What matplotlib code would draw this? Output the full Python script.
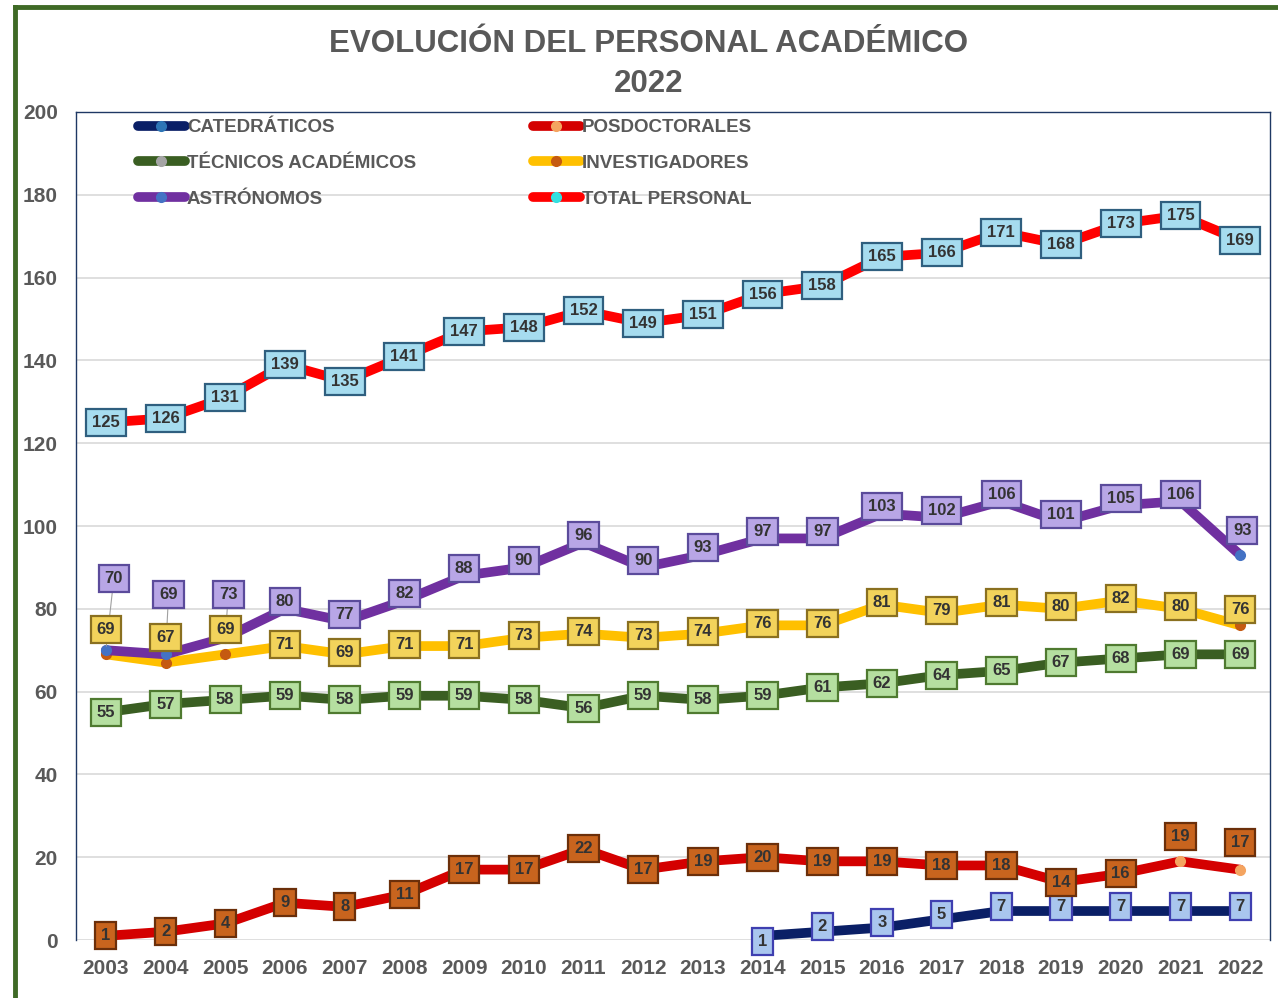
import matplotlib.pyplot as plt
from matplotlib.lines import Line2D

# data
years = list(range(2003, 2023))
total = [125, 126, 131, 139, 135, 141, 147, 148, 152, 149, 151, 156, 158, 165, 166, 171, 168, 173, 175, 169]
astronomos = [70, 69, 73, 80, 77, 82, 88, 90, 96, 90, 93, 97, 97, 103, 102, 106, 101, 105, 106, 93]
investigadores = [69, 67, 69, 71, 69, 71, 71, 73, 74, 73, 74, 76, 76, 81, 79, 81, 80, 82, 80, 76]
tecnicos = [55, 57, 58, 59, 58, 59, 59, 58, 56, 59, 58, 59, 61, 62, 64, 65, 67, 68, 69, 69]
posdoctorales = [1, 2, 4, 9, 8, 11, 17, 17, 22, 17, 19, 20, 19, 19, 18, 18, 14, 16, 19, 17]
catedraticos_years = list(range(2014, 2023))
catedraticos = [1, 2, 3, 5, 7, 7, 7, 7, 7]

TXT = '#595959'
FONT = 'Liberation Sans'

fig = plt.figure(figsize=(12.78, 9.98), dpi=100)
fig.patch.set_facecolor('white')

# green frame (top + left edges visible)
fig.add_artist(Line2D([15/1278, 15/1278], [0, 1 - 7/998], color='#3F6A26', lw=3.5,
                      transform=fig.transFigure))
fig.add_artist(Line2D([15/1278, 1], [1 - 7/998, 1 - 7/998], color='#3F6A26', lw=3.5,
                      transform=fig.transFigure))

ax = fig.add_axes([76/1278, 58/998, (1270 - 76)/1278, (940 - 112)/998])
ax.set_xlim(-0.5, len(years) - 0.5)
ax.set_ylim(0, 200)
ax.set_yticks(range(0, 201, 20))
ax.set_xticks(range(len(years)))
ax.set_xticklabels([str(y) for y in years])
ax.grid(axis='y', color='#D9D9D9', lw=1.2)
ax.set_axisbelow(True)
ax.tick_params(length=0, labelsize=15, labelcolor=TXT)
ax.tick_params(axis='x', pad=14)
ax.tick_params(axis='y', pad=13)
for lab in ax.get_xticklabels() + ax.get_yticklabels():
    lab.set_fontweight('bold')
    lab.set_fontfamily(FONT)
for s in ['left', 'top', 'right']:
    ax.spines[s].set_color('#1F3864')
    ax.spines[s].set_linewidth(1)
ax.spines['bottom'].set_visible(False)

x_all = list(range(len(years)))
x_cat = [years.index(y) for y in catedraticos_years]

series = [
    # name, x, values, line color, marker color, box face, box edge, default offset px, overrides
    ('CATEDRÁTICOS', x_cat, catedraticos, '#0A1F66', '#2E75B6', '#A9C6EE', '#3F3FB0', 5, {0: (0, -6)}),
    ('TÉCNICOS ACADÉMICOS', x_all, tecnicos, '#3A5E22', '#A5A5A5', '#B5DFA0', '#4F7A30', 0, {}),
    ('ASTRÓNOMOS', x_all, astronomos, '#7030A0', '#4472C4', '#B8A6E6', '#5B4B9B', 7,
     {0: (8, 72), 1: (3, 60), 2: (3, 43), 19: (2, 24)}),
    ('POSDOCTORALES', x_all, posdoctorales, '#D40000', '#F4A460', '#C8641E', '#6B2F0A', 0,
     {18: (0, 25), 19: (0, 27)}),
    ('INVESTIGADORES', x_all, investigadores, '#FFC000', '#C55A11', '#F2D35B', '#8A7020', 2,
     {0: (0, 25), 1: (0, 25), 2: (0, 25), 19: (0, 16)}),
    ('TOTAL PERSONAL', x_all, total, '#FF0000', '#33E0E0', '#A6DCEF', '#2F5F7F', 0, {}),
]

order = ['TOTAL PERSONAL', 'ASTRÓNOMOS', 'INVESTIGADORES', 'TÉCNICOS ACADÉMICOS',
         'POSDOCTORALES', 'CATEDRÁTICOS']
handles = {}
for name, xs, vals, lc, mc, fc, ec, dy, over in series:
    z = 3 + order[::-1].index(name) * 0.1
    ln, = ax.plot(xs, vals, color=lc, lw=7, solid_joinstyle='round', solid_capstyle='round',
                  marker='o', markersize=7, markerfacecolor=mc, markeredgecolor=mc, zorder=z)
    handles[name] = ln
    for i, (x, v) in enumerate(zip(xs, vals)):
        ox, oy = over.get(i, (0, dy))
        arrow = None
        if oy > 35:
            arrow = dict(arrowstyle='-', color='#A0A0A0', lw=0.8, shrinkA=0, shrinkB=3)
        ax.annotate(str(v), (x, v), xytext=(ox * 0.72, oy * 0.72), textcoords='offset points',
                    ha='center', va='center', fontsize=12, fontweight='bold',
                    family=FONT, color='#333333', zorder=10,
                    bbox=dict(boxstyle='square,pad=0.36', fc=fc, ec=ec, lw=1.6),
                    arrowprops=arrow)

# legend in two columns placed like the original
leg_kw = dict(frameon=False, handlelength=2.5, handletextpad=0.1, labelspacing=1.0,
              prop={'family': FONT, 'weight': 'bold', 'size': 13.5}, labelcolor=TXT,
              borderpad=0, borderaxespad=0)
col1 = ['CATEDRÁTICOS', 'TÉCNICOS ACADÉMICOS', 'ASTRÓNOMOS']
col2 = ['POSDOCTORALES', 'INVESTIGADORES', 'TOTAL PERSONAL']
leg1 = ax.legend([handles[n] for n in col1], col1, loc='upper left',
                 bbox_to_anchor=(138/1278, 1 - 119/998), bbox_transform=fig.transFigure, **leg_kw)
ax.add_artist(leg1)
ax.legend([handles[n] for n in col2], col2, loc='upper left',
          bbox_to_anchor=(533/1278, 1 - 119/998), bbox_transform=fig.transFigure, **leg_kw)

fig.text(649/1278, 1 - 44/998, 'EVOLUCIÓN DEL PERSONAL ACADÉMICO', ha='center', va='center',
         fontsize=22.5, fontweight='bold', family=FONT, color=TXT)
fig.text(649/1278, 1 - 84/998, '2022', ha='center', va='center',
         fontsize=22.5, fontweight='bold', family=FONT, color=TXT)

fig.savefig('out.png', dpi=100)
